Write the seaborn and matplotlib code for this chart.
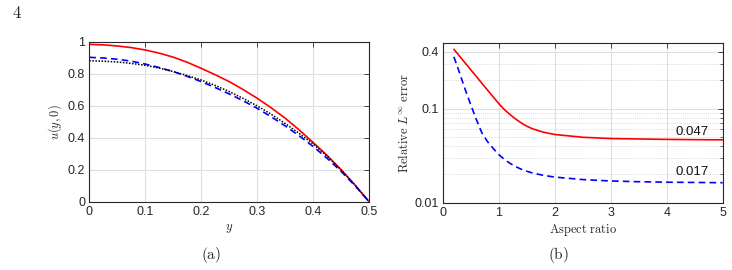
import numpy as np
import matplotlib
matplotlib.use("Agg")
import matplotlib.pyplot as plt
import matplotlib.ticker as mticker
import seaborn as sns

# panel (a): u(y, 0) profiles
y_pos = [0.0, 0.025, 0.05, 0.075, 0.1, 0.125, 0.15, 0.175, 0.2, 0.225, 0.25,
         0.275, 0.3, 0.325, 0.35, 0.375, 0.4, 0.425, 0.45, 0.475, 0.5]
u_red = [0.985, 0.982, 0.975, 0.965, 0.95, 0.93, 0.905, 0.873, 0.835, 0.795, 0.752,
         0.702, 0.648, 0.588, 0.523, 0.45, 0.371, 0.29, 0.2, 0.104, 0.0]
u_blue = [0.904, 0.9, 0.892, 0.88, 0.862, 0.84, 0.815, 0.785, 0.752, 0.715, 0.675,
          0.632, 0.585, 0.532, 0.475, 0.413, 0.346, 0.272, 0.19, 0.1, 0.0]
u_black = [0.883, 0.88, 0.875, 0.866, 0.854, 0.837, 0.815, 0.79, 0.762, 0.728, 0.69,
           0.647, 0.6, 0.548, 0.49, 0.428, 0.362, 0.285, 0.2, 0.104, 0.0]

# panel (b): relative error vs aspect ratio
aspect = [0.2, 0.3, 0.4, 0.5, 0.6, 0.7, 0.8, 0.9, 1.0, 1.1, 1.2, 1.3, 1.4, 1.5,
          1.6, 1.8, 2.0, 2.5, 3.0, 3.5, 4.0, 4.5, 5.0]
err_red = [0.425, 0.36, 0.305, 0.258, 0.219, 0.185, 0.157, 0.133, 0.113, 0.0975, 0.0865,
           0.0775, 0.0705, 0.065, 0.061, 0.056, 0.053, 0.0495, 0.048, 0.0475, 0.047, 0.0467, 0.0465]
err_blue = [0.354, 0.24, 0.16, 0.11, 0.0766, 0.055, 0.0445, 0.0378, 0.0325, 0.0288, 0.0262,
            0.0242, 0.0227, 0.0216, 0.0207, 0.0195, 0.0187, 0.0176, 0.017, 0.0167, 0.0165,
            0.0164, 0.0163]
label_red = "0.047"
label_blue = "0.017"

sns.set_style("white")
plt.rcParams["font.family"] = ["Liberation Sans", "DejaVu Sans"]
plt.rcParams["mathtext.fontset"] = "cm"

fig = plt.figure(figsize=(7.32, 2.70), dpi=100)
ax1 = fig.add_axes([0.122, 0.2519, 0.3825, 0.5926])
ax2 = fig.add_axes([0.6048, 0.2493, 0.3825, 0.5926])

dark = "#262626"
for ax in (ax1, ax2):
    for s in ax.spines.values():
        s.set_color(dark)
        s.set_linewidth(0.8)
    ax.tick_params(which="both", direction="in", top=True, right=True,
                   colors=dark, labelsize=9, pad=3)
    ax.tick_params(which="major", length=3.5, width=0.6)
    ax.tick_params(which="minor", length=2, width=0.5)
    ax.set_axisbelow(True)

# (a)
sns.lineplot(x=y_pos, y=u_red, ax=ax1, color="red", lw=1.2)
sns.lineplot(x=y_pos, y=u_blue, ax=ax1, color="blue", lw=1.2, linestyle=(0, (4, 2.5)))
sns.lineplot(x=y_pos, y=u_black, ax=ax1, color="black", lw=1.1, linestyle=(0, (1, 1)))
ax1.set_xlim(0, 0.5)
ax1.set_ylim(0, 1)
ax1.set_xticks([0, 0.1, 0.2, 0.3, 0.4, 0.5])
ax1.set_xticklabels(["0", "0.1", "0.2", "0.3", "0.4", "0.5"])
ax1.set_yticks([0, 0.2, 0.4, 0.6, 0.8, 1])
ax1.set_yticklabels(["0", "0.2", "0.4", "0.6", "0.8", "1"])
ax1.grid(True, which="major", color="#dedede", lw=0.8)
ax1.set_xlabel(r"$y$", fontsize=9, labelpad=3)
ax1.set_ylabel(r"$u(y,0)$", fontsize=9, labelpad=3)

# (b)
sns.lineplot(x=aspect, y=err_red, ax=ax2, color="red", lw=1.2)
sns.lineplot(x=aspect, y=err_blue, ax=ax2, color="blue", lw=1.2, linestyle=(0, (4, 2.5)))
ax2.set_yscale("log")
ax2.set_xlim(0, 5)
ax2.set_ylim(0.01, 0.5)
ax2.set_xticks([0, 1, 2, 3, 4, 5])
ax2.set_yticks([0.01, 0.1, 0.4])
ax2.yaxis.set_major_formatter(mticker.FixedFormatter(["0.01", "0.1", "0.4"]))
ax2.yaxis.set_minor_locator(mticker.LogLocator(base=10, subs=np.arange(2, 10)))
ax2.yaxis.set_minor_formatter(mticker.NullFormatter())
ax2.grid(True, which="major", color="#dedede", lw=0.8)
ax2.grid(True, which="minor", axis="y", color="#d0d0d0", lw=0.6, linestyle=(0, (1, 1.5)))
ax2.set_xlabel(r"$\mathrm{Aspect\ ratio}$", fontsize=9, labelpad=2)
ax2.set_ylabel(r"$\mathrm{Relative}\ L^{\infty}\ \mathrm{error}$", fontsize=9, labelpad=2)
ax2.text(4.45, 0.057, label_red, fontsize=9.5, ha="center", va="center", color="#111111")
ax2.text(4.45, 0.0212, label_blue, fontsize=9.5, ha="center", va="center", color="#111111")

fig.text(211 / 732, 1 - 255 / 270, r"$\mathrm{(a)}$", fontsize=11, ha="center", va="center")
fig.text(558 / 732, 1 - 255 / 270, r"$\mathrm{(b)}$", fontsize=11, ha="center", va="center")
fig.text(12 / 732, 1 - 13 / 270, r"$4$", fontsize=12, ha="left", va="center")

fig.savefig("out.png", dpi=100)
